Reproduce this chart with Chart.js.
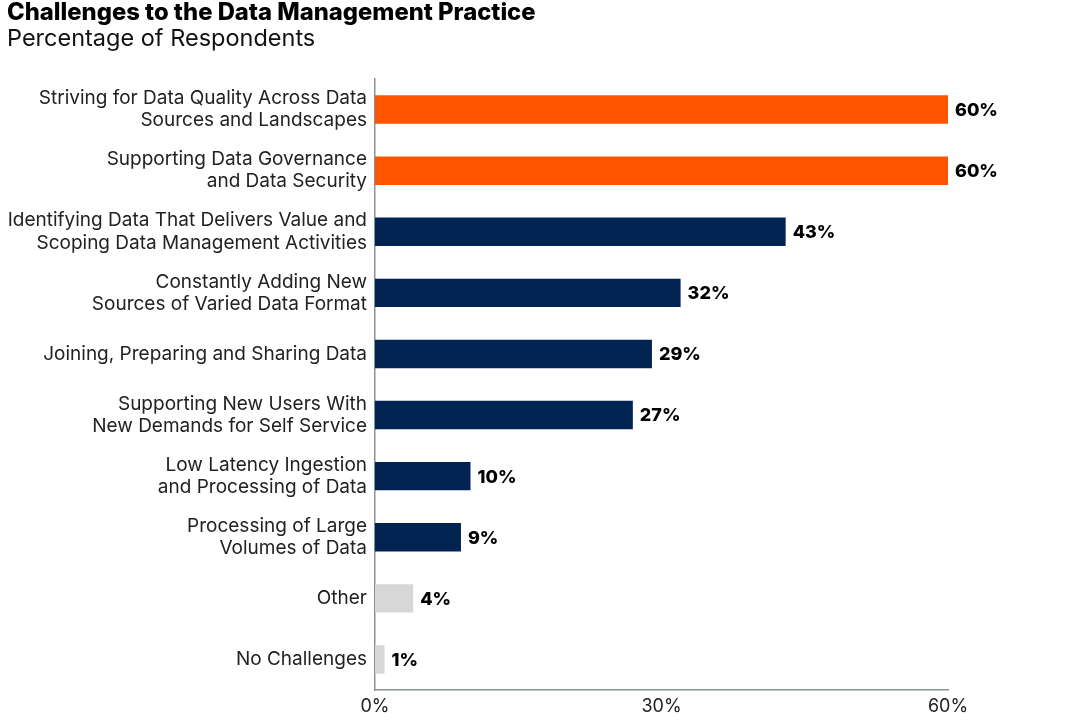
<!DOCTYPE html>
<html>
<head>
<meta charset="utf-8">
<script src="https://cdn.jsdelivr.net/npm/chart.js@4"></script>
<style>
  body { margin: 0; background: #fff; }
</style>
</head>
<body>
<canvas id="myChart" width="1083" height="726"></canvas>
<script>
const categories = [
  ["Striving for Data Quality Across Data", "Sources and Landscapes"],
  ["Supporting Data Governance", "and Data Security"],
  ["Identifying Data That Delivers Value and", "Scoping Data Management Activities"],
  ["Constantly Adding New", "Sources of Varied Data Format"],
  "Joining, Preparing and Sharing Data",
  ["Supporting New Users With", "New Demands for Self Service"],
  ["Low Latency Ingestion", "and Processing of Data"],
  ["Processing of Large", "Volumes of Data"],
  "Other",
  "No Challenges"
];

const values = [60, 60, 43, 32, 29, 27, 10, 9, 4, 1];

const barColors = [
  "#ff5500", "#ff5500",
  "#002352", "#002352", "#002352", "#002352", "#002352", "#002352",
  "#d7d7d7", "#d7d7d7"
];

const xTicks = [0, 30, 60];

const fontName = "Inter, 'Noto Sans', sans-serif";

// value labels at the end of each bar
const barLabels = {
  id: "barLabels",
  afterDatasetsDraw(chart) {
    const ctx = chart.ctx;
    const meta = chart.getDatasetMeta(0);
    ctx.save();
    ctx.font = "800 18px " + fontName;
    ctx.fillStyle = "#000";
    ctx.textBaseline = "middle";
    ctx.textAlign = "left";
    meta.data.forEach((bar, i) => {
      ctx.fillText(values[i] + "%", bar.x + 7, bar.y + 1);
    });
    ctx.restore();
  }
};

const ctx = document.getElementById("myChart");

new Chart(ctx, {
  type: "bar",
  data: {
    labels: categories,
    datasets: [{
      data: values,
      backgroundColor: barColors,
      barPercentage: 0.465,
      categoryPercentage: 1
    }]
  },
  plugins: [barLabels],
  options: {
    indexAxis: "y",
    responsive: false,
    animation: false,
    layout: {
      padding: { left: 7, right: 135, top: 0, bottom: 0 }
    },
    plugins: {
      legend: { display: false },
      tooltip: { enabled: false },
      title: {
        display: true,
        text: "Challenges to the Data Management Practice",
        align: "start",
        color: "#000",
        font: { family: fontName, size: 23.8, weight: "800", lineHeight: 1.1 },
        padding: 0
      },
      subtitle: {
        display: true,
        text: "Percentage of Respondents",
        align: "start",
        color: "#111",
        font: { family: fontName, size: 23.5, weight: "normal", lineHeight: 1.1 },
        padding: { top: 0, bottom: 27 }
      }
    },
    scales: {
      x: {
        min: 0,
        max: 60,
        afterBuildTicks: (scale) => {
          scale.ticks = xTicks.map(v => ({ value: v }));
        },
        afterFit: (scale) => { scale.height = 36; },
        grid: { display: false, drawTicks: false },
        border: { display: true, color: "#8a9393", width: 1.5 },
        ticks: {
          color: "#222",
          padding: 6,
          font: { family: fontName, size: 18 },
          callback: (v) => v + "%"
        }
      },
      y: {
        afterFit: (scale) => { scale.width = 368; },
        grid: { display: false, drawTicks: false },
        border: { display: true, color: "#8a9393", width: 1.5 },
        ticks: {
          color: "#222",
          padding: 8,
          font: { family: fontName, size: 19, lineHeight: 1.16 }
        }
      }
    }
  }
});
</script>
</body>
</html>
